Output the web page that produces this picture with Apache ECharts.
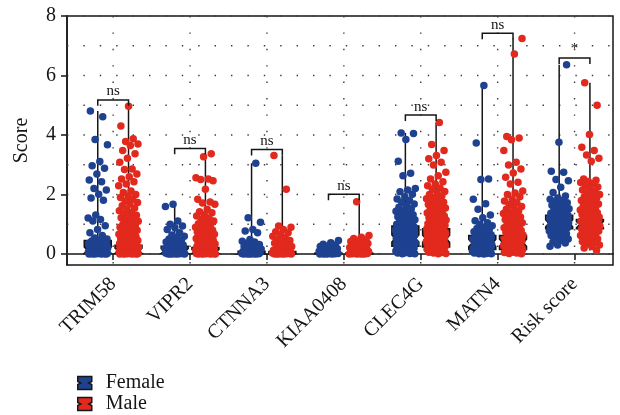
<!DOCTYPE html>
<html>
<head>
<meta charset="utf-8">
<script src="https://cdn.jsdelivr.net/npm/echarts@6/dist/echarts.min.js"></script>
<style>
  html, body { margin: 0; padding: 0; background: #fff; }
  #chart { width: 620px; height: 415px; }
</style>
</head>
<body>
<div id="chart"></div>
<script>
// Genes on the x axis (last one is the combined risk score)
const categories = ['TRIM58', 'VIPR2', 'CTNNA3', 'KIAA0408', 'CLEC4G', 'MATN4', 'Risk score'];
const yTicks = [0, 2, 4, 6, 8];
const gridYValues = [0, 1, 2, 3, 4, 5, 6, 7, 8];
const seriesNames = ['Female', 'Male'];

// Individual scores, per gene and sex
const femaleTRIM58 = [4.81,4.61,3.85,3.67,3.11,2.97,2.88,2.69,2.49,2.43,2.2,2.15,2.01,1.88,1.81,1.31,1.21,1.16,1.11,0.95,0.82,0.71,0.62,0.54,0.5,0.47,0.44,0.41,0.38,0.36,0.33,0.31,0.29,0.27,0.25,0.23,0.21,0.2,0.18,0.17,0.15,0.14,0.13,0.12,0.11,0.1,0.09,0.08,0.07,0.07,0.06,0.05,0.05,0.04,0.04,0.03,0.03,0.02,0.02,0.02,0.01,0.01,0.01,0,0,0,0];
const maleTRIM58 = [4.97,4.3,3.87,3.78,3.7,3.65,3.48,3.37,3.22,3.08,2.86,2.84,2.69,2.6,2.52,2.43,2.35,2.29,2.12,2.07,2.0,1.95,1.9,1.84,1.78,1.73,1.68,1.62,1.55,1.5,1.45,1.39,1.35,1.3,1.25,1.22,1.18,1.15,1.1,1.05,1.0,0.97,0.95,0.9,0.87,0.85,0.8,0.77,0.75,0.7,0.68,0.66,0.62,0.6,0.58,0.55,0.52,0.5,0.48,0.45,0.43,0.42,0.4,0.37,0.35,0.33,0.32,0.3,0.28,0.27,0.26,0.24,0.22,0.21,0.2,0.18,0.17,0.16,0.15,0.14,0.12,0.11,0.1,0.09,0.08,0.07,0.06,0.05,0.05,0.04,0.04,0.03,0.03,0.02,0.02,0.01,0.01,0.01,0,0,0,0];
const femaleVIPR2 = [1.67,1.6,1.11,1.0,0.94,0.88,0.82,0.71,0.64,0.6,0.55,0.5,0.46,0.43,0.4,0.36,0.33,0.3,0.28,0.25,0.22,0.2,0.18,0.16,0.15,0.13,0.12,0.1,0.09,0.08,0.07,0.06,0.05,0.04,0.04,0.03,0.03,0.02,0.02,0.01,0.01,0.01,0,0,0,0];
const maleVIPR2 = [3.37,3.27,2.56,2.52,2.5,2.46,2.18,1.84,1.75,1.71,1.67,1.5,1.42,1.39,1.32,1.28,1.2,1.16,1.11,1.05,1.02,1.0,0.94,0.9,0.88,0.82,0.8,0.78,0.74,0.7,0.68,0.66,0.62,0.6,0.58,0.55,0.52,0.5,0.47,0.45,0.44,0.4,0.38,0.37,0.34,0.32,0.31,0.28,0.26,0.25,0.22,0.21,0.2,0.18,0.17,0.16,0.14,0.13,0.12,0.1,0.09,0.09,0.08,0.07,0.06,0.05,0.05,0.04,0.03,0.03,0.02,0.02,0.01,0.01,0.01,0,0,0,0];
const femaleCTNNA3 = [3.05,1.22,1.07,0.82,0.77,0.71,0.49,0.43,0.4,0.35,0.32,0.28,0.25,0.22,0.2,0.17,0.15,0.13,0.11,0.09,0.08,0.07,0.06,0.05,0.04,0.03,0.03,0.02,0.02,0.01,0.01,0.01,0,0,0,0];
const maleCTNNA3 = [3.31,2.18,0.94,0.9,0.82,0.75,0.71,0.66,0.6,0.55,0.49,0.45,0.4,0.36,0.32,0.28,0.25,0.22,0.2,0.18,0.15,0.13,0.11,0.09,0.08,0.07,0.06,0.05,0.04,0.03,0.03,0.02,0.02,0.01,0.01,0.01,0,0,0,0];
const femaleKIAA0408 = [0.45,0.38,0.33,0.3,0.27,0.25,0.22,0.2,0.18,0.16,0.14,0.12,0.1,0.09,0.08,0.07,0.06,0.05,0.04,0.03,0.03,0.02,0.02,0.01,0.01,0,0,0,0];
const maleKIAA0408 = [1.76,0.62,0.56,0.52,0.48,0.45,0.42,0.4,0.37,0.35,0.32,0.3,0.28,0.25,0.22,0.2,0.18,0.16,0.14,0.12,0.1,0.09,0.08,0.07,0.06,0.05,0.04,0.03,0.03,0.02,0.02,0.01,0.01,0,0,0,0];
const femaleCLEC4G = [4.07,4.05,3.85,3.12,2.71,2.63,2.2,2.15,2.09,2.01,1.92,1.85,1.8,1.74,1.68,1.62,1.57,1.52,1.48,1.44,1.4,1.36,1.32,1.28,1.25,1.22,1.18,1.15,1.12,1.08,1.05,1.02,1.0,0.97,0.94,0.92,0.9,0.87,0.85,0.82,0.8,0.78,0.75,0.73,0.7,0.68,0.66,0.64,0.62,0.6,0.58,0.56,0.54,0.52,0.5,0.48,0.46,0.44,0.42,0.4,0.38,0.36,0.34,0.32,0.3,0.28,0.26,0.24,0.22,0.2,0.18,0.16,0.14,0.12,0.1,0.08,0.06,0.05,0.04,0.03,0.02,0.01,0.01];
const maleCLEC4G = [4.42,3.68,3.48,3.31,3.2,3.08,2.99,2.75,2.63,2.52,2.43,2.35,2.29,2.22,2.18,2.1,2.05,2.0,1.95,1.9,1.86,1.82,1.78,1.74,1.7,1.66,1.62,1.58,1.55,1.52,1.48,1.45,1.42,1.38,1.35,1.32,1.28,1.25,1.22,1.2,1.17,1.14,1.12,1.1,1.07,1.05,1.02,1.0,0.98,0.96,0.93,0.91,0.89,0.87,0.85,0.82,0.8,0.78,0.76,0.74,0.72,0.7,0.68,0.66,0.64,0.62,0.6,0.58,0.56,0.54,0.52,0.5,0.48,0.46,0.44,0.42,0.4,0.38,0.36,0.34,0.32,0.3,0.28,0.26,0.24,0.22,0.2,0.18,0.16,0.14,0.12,0.1,0.08,0.06,0.05,0.03,0.02,0.01];
const femaleMATN4 = [5.66,3.73,2.52,2.5,1.84,1.69,1.5,1.31,1.22,1.12,1.05,1.0,0.95,0.9,0.86,0.82,0.78,0.75,0.71,0.68,0.65,0.62,0.59,0.56,0.53,0.5,0.48,0.45,0.43,0.4,0.38,0.36,0.34,0.32,0.3,0.28,0.26,0.24,0.22,0.2,0.18,0.16,0.15,0.13,0.12,0.1,0.09,0.08,0.06,0.05,0.04,0.03,0.02,0.01,0.01,0];
const maleMATN4 = [7.24,6.72,3.95,3.9,3.84,3.48,3.08,2.99,2.86,2.72,2.58,2.41,2.35,2.12,2.05,2.0,1.92,1.85,1.78,1.72,1.66,1.6,1.55,1.5,1.45,1.4,1.36,1.32,1.28,1.24,1.2,1.16,1.12,1.08,1.05,1.02,0.98,0.95,0.92,0.88,0.85,0.82,0.79,0.76,0.73,0.7,0.67,0.64,0.61,0.58,0.55,0.52,0.5,0.47,0.45,0.42,0.4,0.37,0.35,0.32,0.3,0.28,0.26,0.24,0.22,0.2,0.18,0.16,0.14,0.12,0.1,0.08,0.06,0.05,0.03,0.02,0.01];
const femaleRisk = [6.36,3.76,2.78,2.75,2.5,2.46,2.24,2.07,1.95,1.88,1.84,1.8,1.76,1.72,1.68,1.64,1.6,1.56,1.52,1.49,1.46,1.43,1.4,1.37,1.34,1.32,1.3,1.28,1.26,1.24,1.22,1.2,1.18,1.16,1.14,1.12,1.1,1.08,1.06,1.04,1.02,1.0,0.98,0.96,0.94,0.92,0.9,0.88,0.86,0.84,0.82,0.8,0.77,0.74,0.71,0.68,0.65,0.62,0.58,0.54,0.5,0.45,0.4,0.37,0.3,0.26];
const maleRisk = [5.76,5.0,4.02,3.59,3.48,3.33,3.22,3.12,2.52,2.48,2.44,2.4,2.36,2.3,2.25,2.2,2.15,2.1,2.05,2.0,1.96,1.92,1.88,1.84,1.8,1.76,1.72,1.68,1.64,1.6,1.56,1.52,1.48,1.45,1.42,1.39,1.36,1.33,1.3,1.27,1.24,1.21,1.18,1.15,1.12,1.1,1.08,1.06,1.04,1.02,1.0,0.98,0.96,0.94,0.92,0.9,0.88,0.86,0.84,0.82,0.8,0.77,0.74,0.71,0.68,0.65,0.62,0.58,0.54,0.5,0.46,0.42,0.38,0.34,0.3,0.25,0.2,0.12];

const femaleScores = [femaleTRIM58, femaleVIPR2, femaleCTNNA3, femaleKIAA0408, femaleCLEC4G, femaleMATN4, femaleRisk];
const maleScores = [maleTRIM58, maleVIPR2, maleCTNNA3, maleKIAA0408, maleCLEC4G, maleMATN4, maleRisk];

// Box summaries (lower hinge, median, upper hinge)
const femaleQ1 = [0.02, 0.02, 0.0, 0.0, 0.26, 0.15, 0.85];
const femaleMedian = [0.12, 0.1, 0.03, 0.01, 0.52, 0.37, 1.03];
const femaleQ3 = [0.45, 0.26, 0.09, 0.03, 0.94, 0.62, 1.3];
const maleQ1 = [0.02, 0.02, 0.0, 0.0, 0.24, 0.15, 0.85];
const maleMedian = [0.1, 0.08, 0.02, 0.01, 0.51, 0.38, 0.99];
const maleQ3 = [0.29, 0.22, 0.08, 0.03, 0.85, 0.62, 1.16];

// Female vs male comparison brackets
const bracketY = [5.18, 3.55, 3.51, 2.01, 4.67, 7.42, 6.59];
const signifLabels = ['ns', 'ns', 'ns', 'ns', 'ns', 'ns', '*'];

// ---- drawing ----
const FONT = '"Liberation Serif", "Times New Roman", serif';
const BLUE = '#1e4290';
const RED = '#e2291e';
const INK = '#161616';
const DODGE = 0.2;      // offset of each sex from the gene position
const BOX_HALF = 0.175; // half width of a box
const JITTER = 0.13;    // half width of the point cloud
const TIP = 0.2;        // bracket tip length

function jittered(groups, side) {
  const pts = [];
  groups.forEach((vals, c) => {
    vals.forEach((v, i) => {
      const f = ((i * 0.6180339887 + c * 0.29 + (side > 0 ? 0.5 : 0.13)) % 1) - 0.5;
      pts.push([c + 1 + side * DODGE + f * 2 * JITTER, v]);
    });
  });
  return pts;
}

function boxRows(groups, q1, med, q3, side) {
  return groups.map((vals, c) => [
    c + 1 + side * DODGE, q1[c], med[c], q3[c], Math.min.apply(null, vals), Math.max.apply(null, vals)
  ]);
}

function boxRender(color) {
  return function (params, api) {
    const x = api.value(0), q1 = api.value(1), med = api.value(2), q3 = api.value(3);
    const lo = api.value(4), hi = api.value(5);
    const L = api.coord([x - BOX_HALF, 0])[0];
    const R = api.coord([x + BOX_HALF, 0])[0];
    const cx = api.coord([x, 0])[0];
    const py = v => api.coord([x, v])[1];
    const half = Math.min(0.12, (q3 - q1) * 0.35);
    const nLo = Math.max(q1, med - half), nHi = Math.min(q3, med + half);
    const ind = half > 0.03 ? (R - L) * 0.12 : 0;
    const yq1 = py(q1), yq3 = py(q3), ym = py(med), yn1 = py(nLo), yn2 = py(nHi);
    const poly = [[L, yq1], [L, yn1], [L + ind, ym], [L, yn2], [L, yq3],
                  [R, yq3], [R, yn2], [R - ind, ym], [R, yn1], [R, yq1]];
    const line = { stroke: INK, lineWidth: 1.5 };
    return {
      type: 'group',
      children: [
        { type: 'line', shape: { x1: cx, y1: yq3, x2: cx, y2: py(hi) }, style: line },
        { type: 'line', shape: { x1: cx, y1: yq1, x2: cx, y2: py(lo) }, style: line },
        { type: 'polygon', shape: { points: poly }, style: { fill: color, stroke: INK, lineWidth: 1.6 } },
        { type: 'line', shape: { x1: L + ind, y1: ym, x2: R - ind, y2: ym }, style: line }
      ]
    };
  };
}

function gridRender(horizontal) {
  return function (params, api) {
    const cs = params.coordSys;
    const dot = { stroke: '#3a3a3a', lineWidth: 1.4, lineDash: [1.4, 15] };
    if (horizontal) {
      const y = api.coord([1, api.value(1)])[1];
      return { type: 'line', shape: { x1: cs.x, y1: y, x2: cs.x + cs.width, y2: y }, style: dot };
    }
    const x = api.coord([api.value(0), 0])[0];
    return { type: 'line', shape: { x1: x, y1: cs.y, x2: x, y2: cs.y + cs.height }, style: dot };
  };
}

function bracketRender(params, api) {
  const c = api.value(0), yv = api.value(1);
  const xl = api.coord([c - DODGE, yv])[0];
  const xr = api.coord([c + DODGE, yv])[0];
  const y = api.coord([c, yv])[1];
  const yt = api.coord([c, yv - TIP])[1];
  const cx = api.coord([c, yv])[0];
  return {
    type: 'group',
    children: [
      { type: 'polyline', shape: { points: [[xl, yt], [xl, y], [xr, y], [xr, yt]] },
        style: { stroke: INK, lineWidth: 1.5, fill: null } },
      { type: 'text', style: { text: signifLabels[params.dataIndex], x: cx, y: y - 1,
        align: 'center', verticalAlign: 'bottom', font: '15px ' + FONT, fill: INK } }
    ]
  };
}

const notchIcon = 'path://M0,0 L14,0 L14,5 L11,6.5 L14,8 L14,13 L0,13 L0,8 L3,6.5 L0,5 Z';
const legendColors = [BLUE, RED];
const legendTops = [368, 389];

const option = {
  animation: false,
  backgroundColor: '#fff',
  textStyle: { fontFamily: FONT },
  grid: {
    left: 67, top: 16, right: 7, bottom: 150,
    show: true, borderColor: INK, borderWidth: 1.5, backgroundColor: 'transparent'
  },
  legend: seriesNames.map((name, i) => ({
    left: 72, top: legendTops[i],
    itemWidth: 14, itemHeight: 13,
    data: [{ name: name, icon: notchIcon,
             itemStyle: { color: legendColors[i], borderColor: INK, borderWidth: 1.5 } }],
    textStyle: { fontFamily: FONT, fontSize: 20, color: INK, padding: [0, 0, 0, 9] },
    selectedMode: false
  })),
  xAxis: {
    type: 'value', min: 0.4, max: 7.5,
    axisLine: { show: true, lineStyle: { color: INK, width: 1.5 } },
    axisTick: { show: true, customValues: [1, 2, 3, 4, 5, 6, 7], length: 6, lineStyle: { color: INK, width: 1.5 } },
    axisLabel: {
      customValues: [1, 2, 3, 4, 5, 6, 7],
      formatter: v => categories[Math.round(v) - 1],
      rotate: 45, margin: 16, fontSize: 20, fontFamily: FONT, color: INK
    },
    splitLine: { show: false }
  },
  yAxis: {
    type: 'value', min: -0.37, max: 8,
    name: 'Score', nameLocation: 'middle', nameGap: 35,
    nameTextStyle: { fontSize: 20, fontFamily: FONT, color: INK },
    axisLine: { show: true, lineStyle: { color: INK, width: 1.5 } },
    axisTick: { show: true, customValues: yTicks, length: 6, lineStyle: { color: INK, width: 1.5 } },
    axisLabel: { customValues: yTicks, margin: 11, fontSize: 20, fontFamily: FONT, color: INK },
    splitLine: { show: false }
  },
  series: [
    { type: 'custom', silent: true, z: 1, renderItem: gridRender(true),
      data: gridYValues.map(v => [1, v]) },
    { type: 'custom', silent: true, z: 1, renderItem: gridRender(false),
      data: categories.map((_, i) => [i + 1, 0]) },
    { name: seriesNames[0], type: 'custom', silent: true, z: 2, renderItem: boxRender(BLUE),
      data: boxRows(femaleScores, femaleQ1, femaleMedian, femaleQ3, -1) },
    { name: seriesNames[1], type: 'custom', silent: true, z: 2, renderItem: boxRender(RED),
      data: boxRows(maleScores, maleQ1, maleMedian, maleQ3, 1) },
    { name: seriesNames[0], type: 'scatter', z: 3, symbolSize: 7.5,
      itemStyle: { color: BLUE, opacity: 1 }, data: jittered(femaleScores, -1) },
    { name: seriesNames[1], type: 'scatter', z: 3, symbolSize: 7.5,
      itemStyle: { color: RED, opacity: 1 }, data: jittered(maleScores, 1) },
    { type: 'custom', silent: true, z: 4, renderItem: bracketRender,
      data: categories.map((_, i) => [i + 1, bracketY[i]]) }
  ]
};

const chart = echarts.init(document.getElementById('chart'), null, { renderer: 'canvas' });
chart.setOption(option);
</script>
</body>
</html>
